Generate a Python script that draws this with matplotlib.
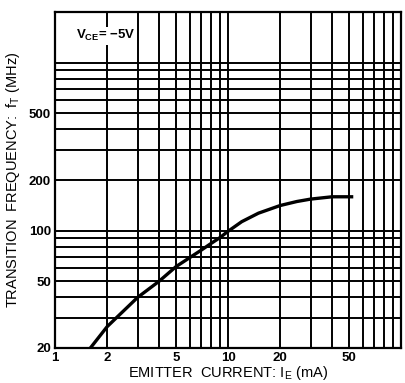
import matplotlib.pyplot as plt

# emitter current (mA) vs transition frequency (MHz)
ie_ma = [1.6, 2, 3, 4, 5, 6, 7, 8, 9, 10, 12, 15, 20, 25, 30, 40, 53]
ft_mhz = [20, 26.8, 40, 50, 61, 69, 76.5, 84, 91, 99, 113, 127, 141, 149, 154, 159, 159]

xticks = [1, 2, 5, 10, 20, 50]
yticks = [20, 50, 100, 200, 500]

plt.rcParams['font.family'] = ['Liberation Sans', 'DejaVu Sans']

fig = plt.figure(figsize=(4.05, 3.83), dpi=100)
ax = fig.add_axes([0.136, 0.0914, 0.854, 0.877])
ax.set_xscale('log')
ax.set_yscale('log')
ax.set_xlim(1, 100)
ax.set_ylim(20, 2000)

# grid of the log paper
for v in list(range(2, 10)) + list(range(10, 100, 10)):
    ax.axvline(v, color='black', lw=1.4, zorder=1)
for v in list(range(30, 100, 10)) + list(range(100, 1001, 100)):
    ax.axhline(v, color='black', lw=1.4, zorder=1)

ax.plot(ie_ma, ft_mhz, color='black', lw=2.4, zorder=3, solid_capstyle='butt')

ax.set_xticks(xticks)
ax.set_xticklabels([str(t) for t in xticks], fontsize=9.5, fontweight='bold')
ax.set_yticks(yticks)
ax.set_yticklabels([str(t) for t in yticks], fontsize=9.5, fontweight='bold')
ax.minorticks_off()
ax.tick_params(length=0, pad=3)

for s in ax.spines.values():
    s.set_linewidth(1.6)

ax.set_xlabel('EMITTER  CURRENT: I$_\\mathregular{E}$ (mA)', fontsize=10.5, labelpad=0)
ax.set_ylabel('TRANSITION  FREQUENCY:  f$_\\mathregular{T}$ (MHz)', fontsize=10.5, labelpad=5)

ax.text(0.06, 0.93, 'V$_\\mathregular{CE}$= \u22125V', transform=ax.transAxes,
        fontsize=9.5, fontweight='bold', va='center',
        bbox=dict(facecolor='white', edgecolor='none', pad=1), zorder=4)

fig.savefig('out.png', dpi=100)
